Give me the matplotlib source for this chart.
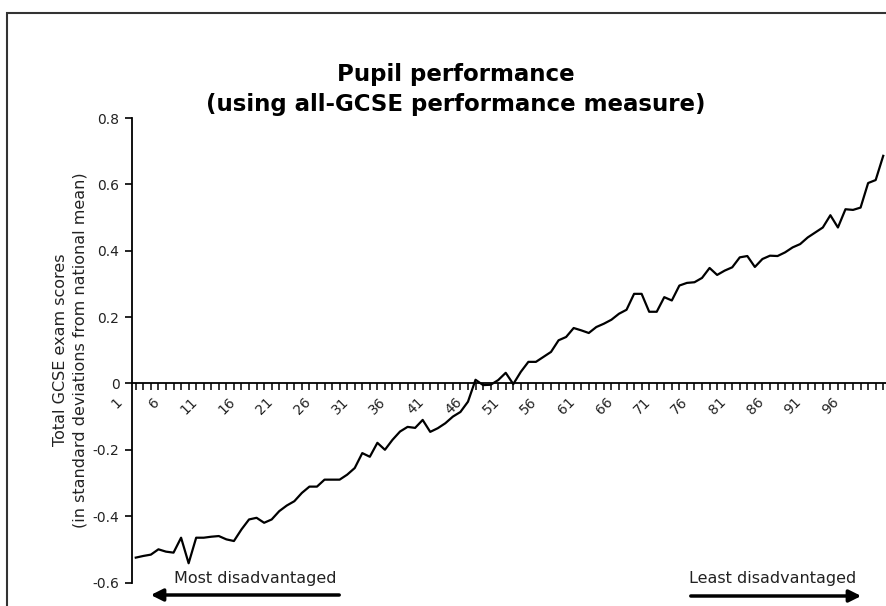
import matplotlib
matplotlib.use("Agg")
import matplotlib.pyplot as plt
from matplotlib.patches import Rectangle
from matplotlib.transforms import ScaledTranslation

# Data: percentile groups 1..100 and scores (SD from national mean)
categories = list(range(1, 101))
scores = [
    -0.525, -0.520, -0.516, -0.500, -0.507, -0.510, -0.465, -0.542, -0.465, -0.465,
    -0.462, -0.460, -0.470, -0.475, -0.440, -0.410, -0.405, -0.420, -0.410, -0.385,
    -0.368, -0.355, -0.330, -0.311, -0.311, -0.290, -0.290, -0.290, -0.275, -0.255,
    -0.210, -0.221, -0.179, -0.200, -0.170, -0.145, -0.131, -0.134, -0.110, -0.146,
    -0.135, -0.120, -0.100, -0.086, -0.055, 0.011, -0.005, -0.004, 0.010, 0.032,
    -0.002, 0.035, 0.065, 0.065, 0.080, 0.095, 0.130, 0.140, 0.167, 0.160,
    0.152, 0.170, 0.180, 0.192, 0.210, 0.222, 0.270, 0.270, 0.216, 0.216,
    0.260, 0.250, 0.295, 0.303, 0.305, 0.318, 0.348, 0.327, 0.340, 0.350,
    0.380, 0.384, 0.351, 0.375, 0.385, 0.384, 0.395, 0.410, 0.420, 0.440,
    0.455, 0.470, 0.507, 0.470, 0.525, 0.523, 0.530, 0.604, 0.613, 0.686,
]
label_step = 5
y_ticks = [-0.6, -0.4, -0.2, 0, 0.2, 0.4, 0.6, 0.8]
y_tick_labels = ["-0.6", "-0.4", "-0.2", "0", "0.2", "0.4", "0.6", "0.8"]

plt.rcParams["font.family"] = "DejaVu Sans"

W, H = 887, 606
fig = plt.figure(figsize=(W / 100, H / 100), dpi=100)
fig.patch.set_facecolor("white")

# plot area in pixel terms
ax = fig.add_axes([132 / W, 1 - 582.5 / H, 755 / W, (582.5 - 118) / H])
ax.plot(categories, scores, color="black", linewidth=1.6)

ax.set_xlim(0.5, 100.5)
ax.set_ylim(-0.6, 0.8)

ax.spines["top"].set_visible(False)
ax.spines["right"].set_visible(False)
ax.spines["bottom"].set_position(("data", 0))
ax.spines["bottom"].set_linewidth(1.3)
ax.spines["left"].set_linewidth(1.3)

ax.set_yticks(y_ticks)
ax.set_yticklabels(y_tick_labels, fontsize=10, color="#222222")
ax.tick_params(axis="y", direction="out", length=5, width=1.2, pad=4)

ax.set_xticks(categories)
ax.set_xticklabels([str(c) if (c - 1) % label_step == 0 else "" for c in categories],
                   rotation=45, ha="right", va="top", fontsize=10, color="#222222")
ax.tick_params(axis="x", direction="out", length=5, width=1.1, pad=3)
shift = ScaledTranslation(-8 / 72, 0, fig.dpi_scale_trans)
for lab in ax.get_xticklabels():
    lab.set_transform(lab.get_transform() + shift)

# outer chart border
fig.add_artist(Rectangle((7 / W, -0.05), 1.2, 1 - 13 / H + 0.05,
                         transform=fig.transFigure, fill=False,
                         edgecolor="#333333", linewidth=1.5))

# title
fig.text(456 / W, 1 - 75 / H, "Pupil performance", ha="center", va="center",
         fontsize=16.5, fontweight="bold")
fig.text(456 / W, 1 - 105 / H, "(using all-GCSE performance measure)",
         ha="center", va="center", fontsize=16.5, fontweight="bold")

# y label
fig.text(70 / W, 1 - 350 / H,
         "Total GCSE exam scores\n(in standard deviations from national mean)",
         rotation=90, ha="center", va="center", fontsize=11.5,
         multialignment="center", linespacing=1.35, color="#222222")

# arrows and captions
fig.text(255 / W, 1 - 578 / H, "Most disadvantaged", ha="center", va="center",
         fontsize=11.5, color="#222222")
fig.text(773 / W, 1 - 578 / H, "Least disadvantaged", ha="center", va="center",
         fontsize=11.5, color="#222222")
fig.add_artist(plt.Annotation("", xy=(148, H - 595), xytext=(342, H - 595),
                              xycoords="figure pixels", textcoords="figure pixels",
                              arrowprops=dict(arrowstyle="-|>", color="black",
                                              lw=2.5, mutation_scale=18)))
fig.add_artist(plt.Annotation("", xy=(864, H - 596), xytext=(688, H - 596),
                              xycoords="figure pixels", textcoords="figure pixels",
                              arrowprops=dict(arrowstyle="-|>", color="black",
                                              lw=2.5, mutation_scale=18)))

fig.savefig("out.png", dpi=100)
